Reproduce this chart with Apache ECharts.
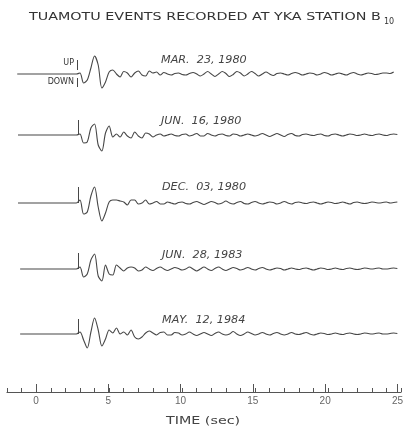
<!DOCTYPE html>
<html><head><meta charset="utf-8">
<script src="https://cdn.jsdelivr.net/npm/echarts@6/dist/echarts.min.js"></script>
<style>html,body{margin:0;padding:0;background:#fff}#c{width:406px;height:428px}</style>
</head><body><div id="c"></div>
<script>
// ---------------- data ----------------
const eventLabels = ['MAR.  23, 1980', 'JUN.  16, 1980', 'DEC.  03, 1980', 'JUN.  28, 1983', 'MAY.  12, 1984'];
const traceStart = [-1.3, -1.25, -1.25, -1.1, -1.1];   // sec, start of flat pre-event line
const onsetTimes = [2.8, 2.85, 2.9, 2.9, 2.9];         // sec, onset marker
const sampleStart = 2.75;                              // sec, first sample of waveform
const sampleStep = 0.25;                               // sec between samples
const timeTicks = [0, 5, 10, 15, 20, 25];

const trace1 = [0,
 1,-9,-6,6,  18,9,-14,-8,  2,4,0,-3,  2.5,1,-3,1,  3,-1,-2,3,
 1,2,-1,1.5,  0,-1,0.5,1,  -0.5,-1,0.5,1.5,  0,-2,0,2.5,  0,-2.5,0,2.5,
 0.5,-2.5,-0.5,2.5,  1,-2,0,2.5,  0.5,-2,0,2,  0,-1.5,0.5,1,  0,-1,0.5,1.5,
 0.5,-1,0,1,  0.5,-1,0,1.5,  0.5,-1,0,1,  0,-1,0.5,1.5,  0,-1,0,1,
 0.5,-0.5,0,1,  1,0.5,2];
const trace2 = [0,
 1,-8,-7,7,  11,-10,-16,2,  9,-2,1,-2,  3,-1,-3,3,  -1,-3,2,1,
 -2,0,1,-1,  0,1,-0.5,-1,  0.5,1,-1,0,  1.5,-1,-1,1.5,  0,-1,0.5,1,
 -0.5,-1,1,0.5,  -1,0,1,0,  -1,0,1.5,0,  -1.5,0,1.5,0,  -1.5,0.5,1.5,-0.5,
 -1,0.5,1,0,  -0.5,0.5,1,-0.5,  -1,0.5,1,0,  -1,0,1,0.5,  -0.5,0,1,0,
 -0.5,0.5,1,0,  -0.5,0.5,1,0.5];
const trace3 = [0,
 3,-11,-9,7,  16,-4,-18,-10,  1,3,3,2,  1,-2,3,3,  -1,0,3,-1,
 0,1.5,-1,-1,  1,0,-1,0.5,  1,-0.5,-1,0.5,  1.5,0,-1.5,0,  1.5,0.5,-1,0,
 2,0,-1,0.5,  1.5,-0.5,-1,0.5,  1.5,0,-1,0,  1,0.5,-1,0,  1.5,0,-1,0.5,
 1,0,-0.5,0.5,  1,0,-1,0,  1,0.5,-0.5,0,  1,0,-1,0.5,  1,0,-0.5,0,
 1,0.5,0,0.5,  1,0,0.5,1];
const trace4 = [0,
 2,-8,-5,9,  15,-7,-12,4,  -5,-6,4,1,  -2,1,2,1,  -2,-1,2,0,
 -1.5,0.5,2,0,  -1.5,0,1.5,0.5,  -1,0,2,0,  -2,0,2,0,  -1.5,0.5,2,0,
 -1.5,0,1.5,0.5,  -1,0,1.5,0,  -1,0.5,1.5,0,  -1,0,1,0.5,  -1,0,1,0,
 -0.5,0.5,1,0,  -1,0,1,0.5,  -0.5,0,1,0,  -0.5,0.5,1,0,  -0.5,0,1,0.5,
 0,0.5,1,0,  0,0.5,1,0.5];
const trace5 = [0,
 2,-6,-14,2,  16,4,-12,-5,  4,1,6,0,  2,-1,4,-3,  -5,-3,1,3,
 1,-1,1.5,2,  -1,-1,1.5,1,  -1,0,2,0,  -1.5,0,1.5,0,  -1.5,0.5,2,0,
 -1,0,2.5,0,  -1.5,0,2,0.5,  -1,0,1.5,0,  -1,0.5,1.5,0,  -1,0,1.5,0,
 -0.5,0.5,1.5,0,  -1,0,1,0.5,  -0.5,0,1,0,  -0.5,0.5,1,0,  -0.5,0,1,0.5,
 0,0.5,1,0,  0,0.5,1,0.5];
const traces = [trace1, trace2, trace3, trace4, trace5];

// ---------------- layout ----------------
const plotLeft = 7, plotRight = 5, axisBottom = 36;   // x axis line at y = 392
const baselinesPx = [74, 135, 203, 269, 334];
const halfH = 30;
const onsetSpans = [[[4, 14], [-4, -13]], [[0, 15]], [[0, 16]], [[0, 16]], [[0, 15]]];
const labelPos = [[161, 60], [161, 121], [162, 187], [162, 255], [162, 320]];
const ink = '#474747';

const grids = [], xAxes = [], yAxes = [], series = [];
traces.forEach((amps, k) => {
  grids.push({ left: plotLeft, right: plotRight, top: baselinesPx[k] - halfH, height: 2 * halfH });
  xAxes.push({ type: 'value', gridIndex: k, min: -2, max: 25, show: false });
  yAxes.push({ type: 'value', gridIndex: k, min: -halfH, max: halfH, show: false });
  const pts = [[traceStart[k], 0]];
  amps.forEach((a, i) => pts.push([sampleStart + i * sampleStep, a]));
  series.push({
    type: 'line', xAxisIndex: k, yAxisIndex: k, data: pts, showSymbol: false, smooth: 0.3,
    lineStyle: { color: ink, width: 1.1 }, silent: true,
    markLine: {
      symbol: ['none', 'none'], silent: true, label: { show: false },
      lineStyle: { color: ink, width: 1, type: 'solid' },
      data: onsetSpans[k].map(s => [{ coord: [onsetTimes[k], s[0]] }, { coord: [onsetTimes[k], s[1]] }])
    }
  });
});
// time axis: minor ticks (every 1 s) with axis line
const gA = grids.length;
grids.push({ left: plotLeft, right: plotRight, bottom: axisBottom, height: 10 });
xAxes.push({ type: 'value', gridIndex: gA, min: -2, max: 25, interval: 1,
  axisLine: { show: true, lineStyle: { color: '#555', width: 1.2 } },
  axisTick: { show: true, inside: true, length: 4, lineStyle: { color: '#555' } },
  axisLabel: { show: false }, splitLine: { show: false } });
yAxes.push({ type: 'value', gridIndex: gA, show: false });
// time axis: major ticks (every 5 s) with labels
const gB = grids.length;
grids.push({ left: 36, right: plotRight, bottom: axisBottom, height: 10 });
xAxes.push({ type: 'value', gridIndex: gB, min: 0, max: 25, interval: 5,
  axisLine: { show: false },
  axisTick: { show: true, inside: true, length: 8, lineStyle: { color: '#555' } },
  axisLabel: { show: true, margin: 4, color: '#666', fontSize: 10, fontFamily: 'Liberation Sans',
    formatter: v => timeTicks.includes(v) ? String(v) : '' },
  splitLine: { show: false } });
yAxes.push({ type: 'value', gridIndex: gB, show: false });

const graphics = [
  { type: 'text', x: 29, y: 17, scaleX: 1.3, style: { text: 'TUAMOTU EVENTS RECORDED AT YKA STATION B',
    fontSize: 11, fontFamily: 'DejaVu Sans', fill: '#333', verticalAlign: 'middle' } },
  { type: 'text', x: 384, y: 22, style: { text: '10', fontSize: 8, fontFamily: 'DejaVu Sans', fill: '#333', verticalAlign: 'middle' } },
  { type: 'text', x: 74, y: 62.5, style: { text: 'UP', fontSize: 8, fontFamily: 'DejaVu Sans', fill: '#333', align: 'right', verticalAlign: 'middle' } },
  { type: 'text', x: 74, y: 82, style: { text: 'DOWN', fontSize: 8, fontFamily: 'DejaVu Sans', fill: '#333', align: 'right', verticalAlign: 'middle' } },
  { type: 'text', x: 166, y: 421, scaleX: 1.3, style: { text: 'TIME (sec)', fontSize: 11, fontFamily: 'DejaVu Sans', fill: '#444', verticalAlign: 'middle' } }
];
eventLabels.forEach((t, k) => graphics.push({ type: 'text', x: labelPos[k][0], y: labelPos[k][1], scaleX: 1.12,
  style: { text: t, fontSize: 10, fontStyle: 'italic', fontFamily: 'DejaVu Sans', fill: '#444', verticalAlign: 'middle' } }));

const chart = echarts.init(document.getElementById('c'), null, { renderer: 'canvas' });
chart.setOption({
  animation: false, backgroundColor: '#fff',
  grid: grids, xAxis: xAxes, yAxis: yAxes, series: series, graphic: graphics
});
</script></body></html>
